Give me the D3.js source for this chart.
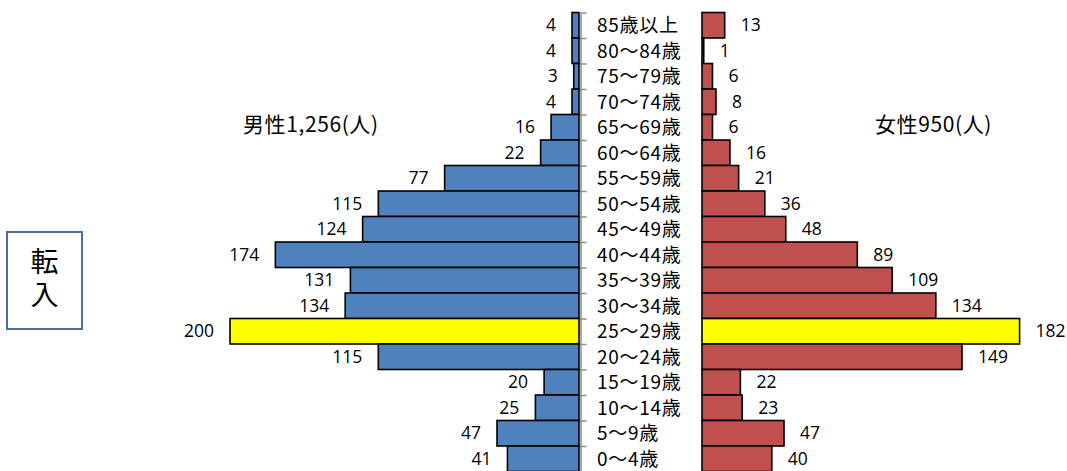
<!DOCTYPE html>
<html>
<head>
<meta charset="utf-8">
<script src="https://cdn.jsdelivr.net/npm/d3@7"></script>
<style>
  body { margin: 0; background: #fff; }
  svg { display: block; }
  .val { font-family: "Open Sans", sans-serif; font-size: 17.5px; fill: #000; }
  .cat { font-family: "Noto Sans CJK JP", sans-serif; font-size: 19px; letter-spacing: 0.7px; fill: #000; }
  .ttl { font-family: "Noto Sans CJK JP", sans-serif; font-size: 21px; letter-spacing: 0.6px; fill: #000; }
</style>
</head>
<body>
<div id="pyramid"></div>
<script>
// age groups, top of chart first
var ageGroups = ['85歳以上', '80～84歳', '75～79歳', '70～74歳', '65～69歳', '60～64歳',
  '55～59歳', '50～54歳', '45～49歳', '40～44歳', '35～39歳', '30～34歳',
  '25～29歳', '20～24歳', '15～19歳', '10～14歳', '5～9歳', '0～4歳'];
var maleValues = [4, 4, 3, 4, 16, 22, 77, 115, 124, 174, 131, 134, 200, 115, 20, 25, 47, 41];
var femaleValues = [13, 1, 6, 8, 6, 16, 21, 36, 48, 89, 109, 134, 182, 149, 22, 23, 47, 40];
var highlightGroup = '25～29歳';
var maleTitle = '男性1,256(人)';
var femaleTitle = '女性950(人)';
var sideLabel = '転入';

var w = 1067, h = 471;
var leftBegin = 580, rightBegin = 702;

function translation(x, y) {
  return 'translate(' + x + ',' + y + ')';
}

var data = ageGroups.map(function(g, i) {
  return { group: g, male: maleValues[i], female: femaleValues[i] };
});

var svg = d3.select('#pyramid').append('svg')
  .attr('width', w)
  .attr('height', h);

// scales
var xScale = d3.scaleLinear()
  .domain([0, 200])
  .range([0, 349]);

var yScale = d3.scaleBand()
  .domain(ageGroups)
  .range([12.5, 471.5]);

var yBounds = d3.scaleLinear()
  .domain([0, ageGroups.length])
  .range([12.5, 471.5]);

// left axis with ticks on the band boundaries
var yAxisLeft = d3.axisRight(yBounds)
  .tickValues(d3.range(0, ageGroups.length + 1))
  .tickFormat('')
  .tickSize(6)
  .tickSizeOuter(0);

var axisG = svg.append('g')
  .attr('transform', translation(leftBegin + 0.5, 0))
  .call(yAxisLeft);
axisG.select('.domain').attr('stroke', '#8c8c8c').attr('stroke-width', 1.5);
axisG.selectAll('.tick line').attr('stroke', '#8c8c8c').attr('stroke-width', 1.5);

function fillFor(d, base) {
  return d.group === highlightGroup ? '#ffff00' : base;
}

// bars
var leftBarGroup = svg.append('g')
  .attr('transform', translation(leftBegin - 1, 0) + 'scale(-1,1)');
var rightBarGroup = svg.append('g')
  .attr('transform', translation(rightBegin, 0));

leftBarGroup.selectAll('.bar.left')
  .data(data)
  .enter().append('rect')
    .attr('class', 'bar left')
    .attr('x', 0)
    .attr('y', function(d) { return yScale(d.group); })
    .attr('width', function(d) { return xScale(d.male); })
    .attr('height', yScale.bandwidth())
    .attr('fill', function(d) { return fillFor(d, '#4f81bd'); })
    .attr('stroke', '#000')
    .attr('stroke-width', 1.6);

rightBarGroup.selectAll('.bar.right')
  .data(data)
  .enter().append('rect')
    .attr('class', 'bar right')
    .attr('x', 0)
    .attr('y', function(d) { return yScale(d.group); })
    .attr('width', function(d) { return xScale(d.female); })
    .attr('height', yScale.bandwidth())
    .attr('fill', function(d) { return fillFor(d, '#c0504d'); })
    .attr('stroke', '#000')
    .attr('stroke-width', 1.6);

// value labels
svg.selectAll('.val.left')
  .data(data)
  .enter().append('text')
    .attr('class', 'val left')
    .attr('x', function(d) { return leftBegin - 1 - xScale(d.male) - 16; })
    .attr('y', function(d) { return yScale(d.group) + yScale.bandwidth() / 2; })
    .attr('dy', '0.35em')
    .attr('text-anchor', 'end')
    .text(function(d) { return d.male; });

svg.selectAll('.val.right')
  .data(data)
  .enter().append('text')
    .attr('class', 'val right')
    .attr('x', function(d) { return rightBegin + xScale(d.female) + 16; })
    .attr('y', function(d) { return yScale(d.group) + yScale.bandwidth() / 2; })
    .attr('dy', '0.35em')
    .attr('text-anchor', 'start')
    .text(function(d) { return d.female; });

// category labels between the halves
svg.selectAll('.cat')
  .data(data)
  .enter().append('text')
    .attr('class', 'cat')
    .attr('x', 597)
    .attr('y', function(d) { return yScale(d.group) + yScale.bandwidth() / 2; })
    .attr('dy', '0.36em')
    .text(function(d) { return d.group; });

// titles
svg.append('text').attr('class', 'ttl')
  .attr('x', 243).attr('y', 124).attr('dy', '0.36em')
  .text(maleTitle);
svg.append('text').attr('class', 'ttl')
  .attr('x', 875).attr('y', 124).attr('dy', '0.36em')
  .text(femaleTitle);

// side box
svg.append('rect')
  .attr('x', 7).attr('y', 232)
  .attr('width', 75).attr('height', 97)
  .attr('fill', '#fff')
  .attr('stroke', '#4a6f9f')
  .attr('stroke-width', 2);

svg.append('text')
  .attr('x', 44.5)
  .attr('y', 280.5)
  .attr('text-anchor', 'middle')
  .style('writing-mode', 'vertical-rl')
  .style('letter-spacing', '5px')
  .style('font-family', '"Noto Sans CJK JP", sans-serif')
  .style('font-size', '28px')
  .text(sideLabel);
</script>
</body>
</html>
